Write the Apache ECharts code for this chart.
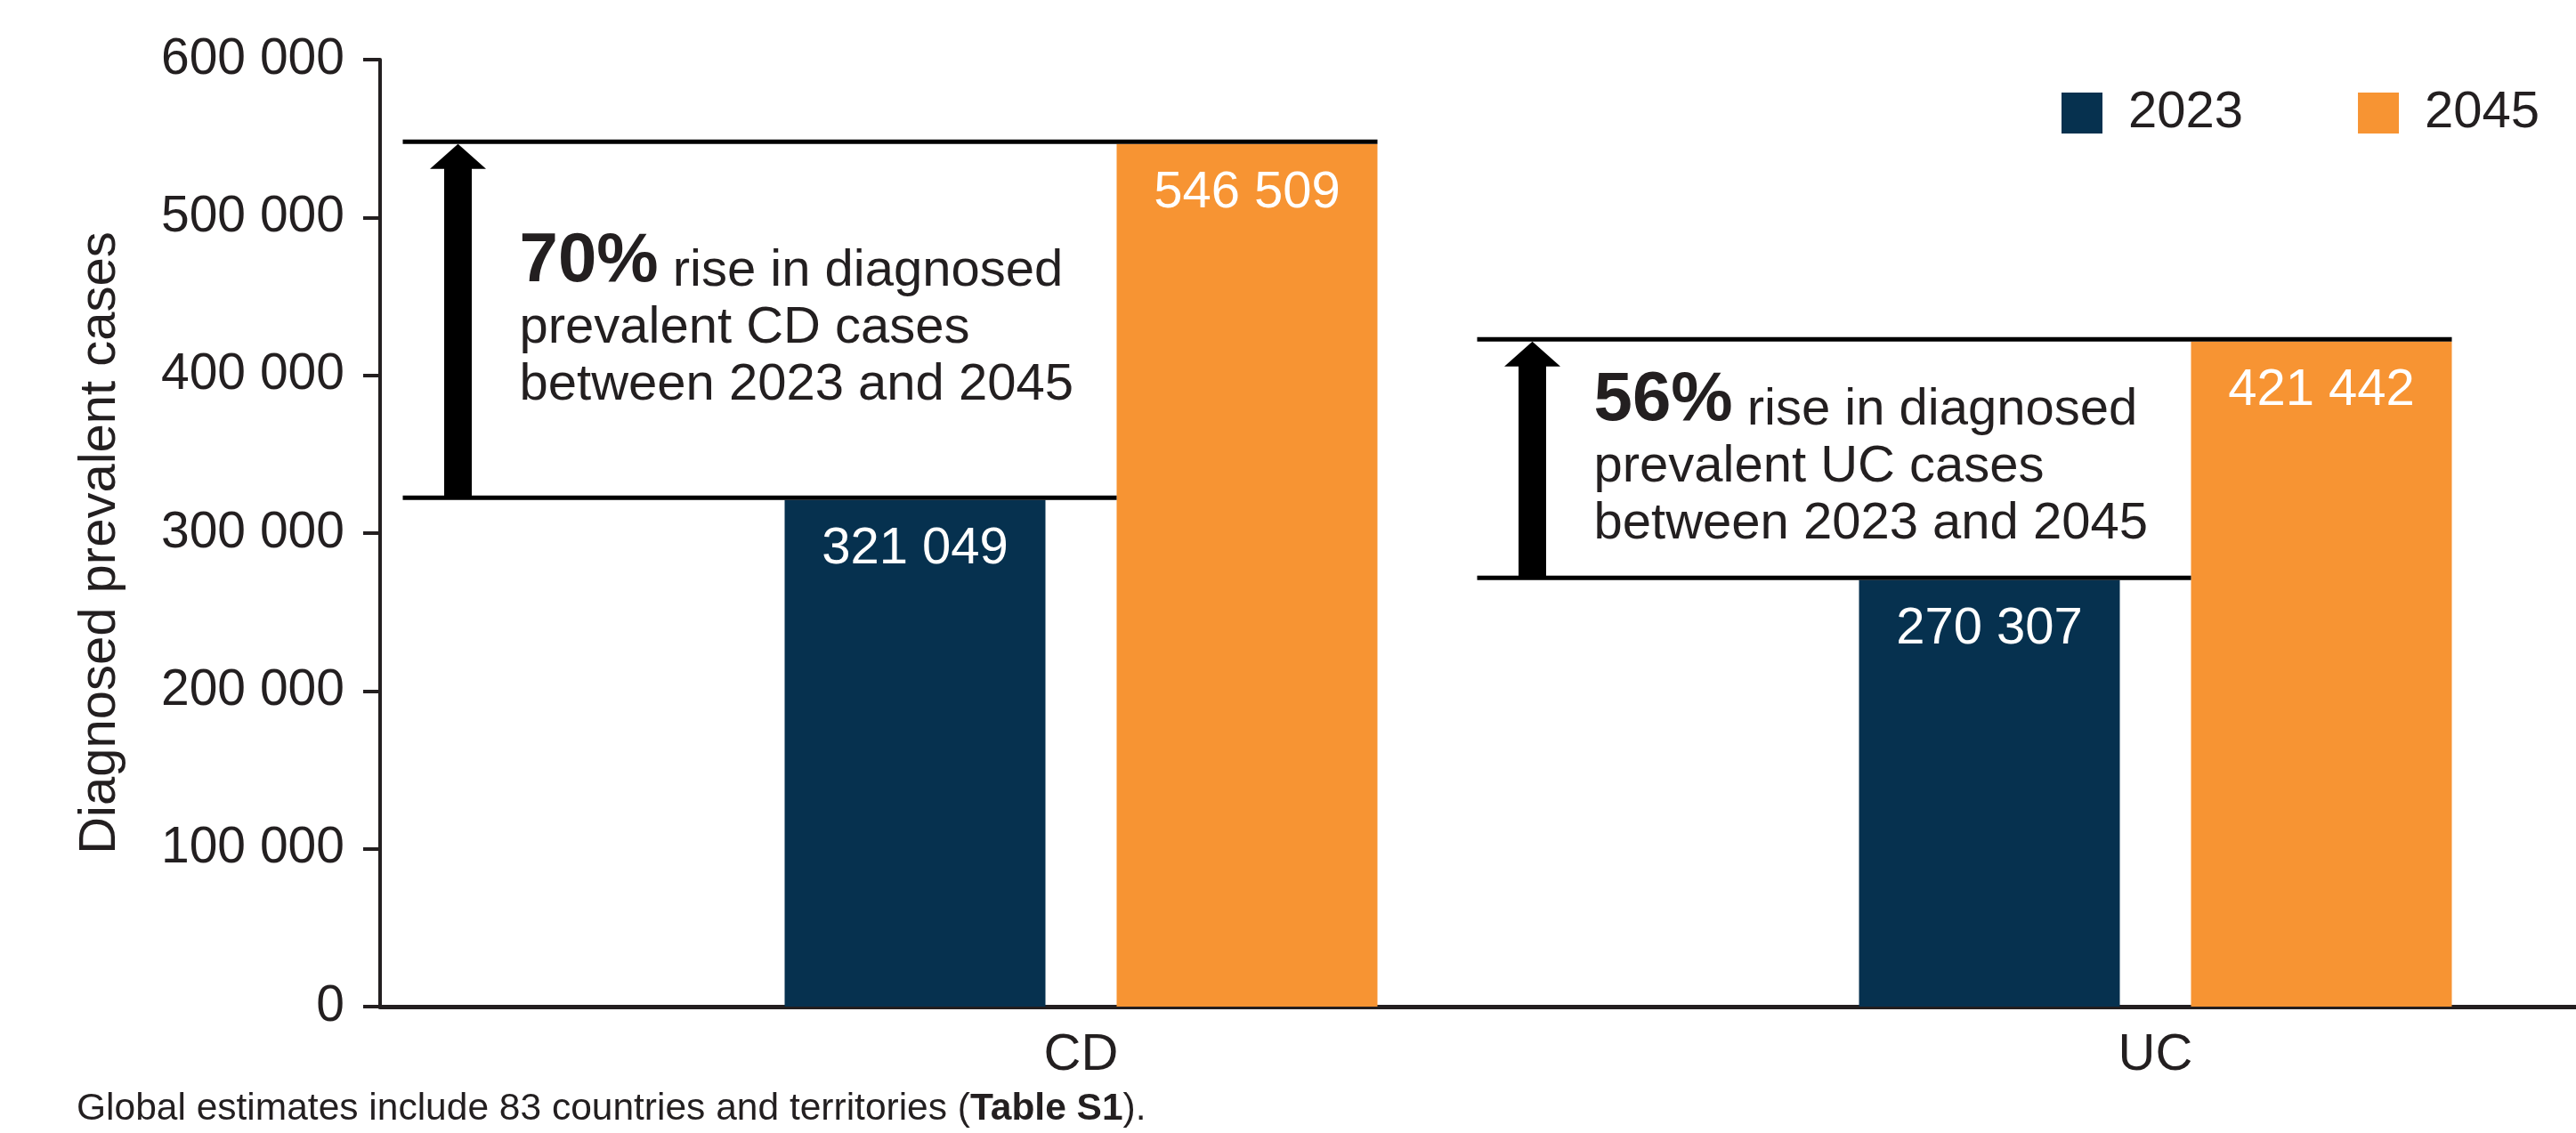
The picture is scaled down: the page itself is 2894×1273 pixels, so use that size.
<!DOCTYPE html>
<html>
<head>
<meta charset="utf-8">
<title>Diagnosed prevalent cases, 2023 vs 2045</title>
<script src="https://cdn.jsdelivr.net/npm/echarts@6/dist/echarts.min.js"></script>
<style>
  html, body { margin: 0; padding: 0; background: #ffffff; }
  #chart { width: 2894px; height: 1273px; }
</style>
</head>
<body>
<div id="chart"></div>
<script>
// ---- data ----
const categories = ['CD', 'UC'];
const yearNames = ['2023', '2045'];
const cases2023 = [321049, 270307];
const cases2045 = [546509, 421442];
const riseLabels = ['70%', '56%'];
const yAxisMax = 600000;
const yAxisStep = 100000;
const footnoteParts = ['Global estimates include 83 countries and territories (', 'Table S1', ').'];

// ---- style ----
const FONT = '"Liberation Sans", Arial, Helvetica, sans-serif';
const INK = '#231f20';
const NAVY = '#06314f';
const ORANGE = '#f79433';
const BAR_WIDTH = 293;
const BAR_GAP = 80;

const fmt = v => String(v).replace(/\B(?=(\d{3})+(?!\d))/g, ' ');

const chart = echarts.init(document.getElementById('chart'), null, { renderer: 'canvas' });

// category index 0 and 1 sit on a value axis so the group centres can be placed freely
const GRID_LEFT = 427;
const GRID_RIGHT_EDGE = 2894;
const UNIT_PX = 1207;
const FIRST_CENTER = 1214.5;
const xMin = (GRID_LEFT - FIRST_CENTER) / UNIT_PX;
const xMax = (GRID_RIGHT_EDGE - FIRST_CENTER) / UNIT_PX;

const barLabel = {
  show: true,
  position: 'insideTop',
  distance: 26,
  color: '#ffffff',
  fontFamily: FONT,
  fontSize: 58,
  lineHeight: 58,
  formatter: p => fmt(p.value[1])
};

function renderRise(params, api) {
  const idx = api.value(0);
  const low = api.coord([idx, api.value(1)]);
  const high = api.coord([idx, api.value(2)]);
  const cx = low[0];
  const arrowX = cx - 700;
  const lineStart = arrowX - 62;
  const headH = 28, headHalf = 31.5, shaftHalf = 15.5;
  const topY = high[1] - 2.5;
  const botY = low[1] - 2.5;
  const cat = categories[idx];
  const pct = riseLabels[idx];
  return {
    type: 'group',
    children: [
      { type: 'line', shape: { x1: lineStart, y1: topY, x2: cx + BAR_GAP / 2 + BAR_WIDTH, y2: topY },
        style: { stroke: '#000', lineWidth: 5 } },
      { type: 'line', shape: { x1: lineStart, y1: botY, x2: cx + BAR_GAP / 2, y2: botY },
        style: { stroke: '#000', lineWidth: 5 } },
      { type: 'rect', shape: { x: arrowX - shaftHalf, y: high[1] + headH - 1, width: shaftHalf * 2, height: botY - (high[1] + headH - 1) },
        style: { fill: '#000' } },
      { type: 'polygon', shape: { points: [[arrowX, high[1]], [arrowX - headHalf, high[1] + headH], [arrowX + headHalf, high[1] + headH]] },
        style: { fill: '#000' } },
      { type: 'text',
        style: {
          x: arrowX + 69,
          y: (high[1] + low[1]) / 2 - 3,
          align: 'left',
          verticalAlign: 'middle',
          text: '{b|' + pct + '}{r| rise in diagnosed}\n{r|prevalent ' + cat + ' cases}\n{r|between ' + yearNames[0] + ' and ' + yearNames[1] + '}',
          fill: INK,
          rich: {
            b: { fontFamily: FONT, fontSize: 78, fontWeight: 'bold', lineHeight: 78, verticalAlign: 'bottom', fill: INK },
            r: { fontFamily: FONT, fontSize: 58, lineHeight: 64, verticalAlign: 'bottom', fill: INK }
          }
        } }
    ]
  };
}

const option = {
  animation: false,
  backgroundColor: '#ffffff',
  textStyle: { fontFamily: FONT, color: INK },
  grid: { left: GRID_LEFT, right: 0, top: 67, bottom: 142, containLabel: false },
  legend: {
    data: yearNames,
    left: 2316,
    top: 98,
    padding: 0,
    itemWidth: 46,
    itemHeight: 46,
    itemGap: 129,
    icon: 'rect',
    selectedMode: false,
    textStyle: { fontFamily: FONT, fontSize: 58, lineHeight: 58, color: INK, padding: [0, 0, 0, 24] }
  },
  xAxis: {
    type: 'value',
    min: xMin,
    max: xMax,
    splitLine: { show: false },
    axisTick: { show: false },
    axisLine: { show: true, onZero: false, lineStyle: { color: INK, width: 5 } },
    axisLabel: {
      customValues: categories.map((c, i) => i),
      formatter: v => categories[Math.round(v)] ?? '',
      margin: 26,
      fontFamily: FONT,
      fontSize: 58,
      lineHeight: 58,
      color: INK
    }
  },
  yAxis: {
    type: 'value',
    min: 0,
    max: yAxisMax,
    interval: yAxisStep,
    name: 'Diagnosed prevalent cases',
    nameLocation: 'middle',
    nameRotate: 90,
    nameGap: 285,
    nameTextStyle: { fontFamily: FONT, fontSize: 58, lineHeight: 58, color: INK, padding: [0, 22, 0, 0] },
    splitLine: { show: false },
    axisLine: { show: true, onZero: false, lineStyle: { color: INK, width: 4 } },
    axisTick: { show: true, length: 19, lineStyle: { color: INK, width: 4 } },
    axisLabel: { formatter: v => fmt(v), margin: 40, fontFamily: FONT, fontSize: 57, color: INK }
  },
  series: [
    {
      name: yearNames[0],
      type: 'bar',
      barWidth: BAR_WIDTH,
      barGap: (BAR_GAP / BAR_WIDTH * 100).toFixed(1) + '%',
      itemStyle: { color: NAVY },
      label: barLabel,
      data: categories.map((c, i) => [i, cases2023[i]])
    },
    {
      name: yearNames[1],
      type: 'bar',
      barWidth: BAR_WIDTH,
      itemStyle: { color: ORANGE },
      label: barLabel,
      data: categories.map((c, i) => [i, cases2045[i]])
    },
    {
      name: 'rise',
      type: 'custom',
      z: 5,
      renderItem: renderRise,
      encode: { x: 0, y: [1, 2] },
      data: categories.map((c, i) => [i, cases2023[i], cases2045[i]])
    }
  ],
  graphic: [
    {
      type: 'text',
      left: 86,
      top: 1225,
      style: {
        text: '{r|' + footnoteParts[0] + '}{b|' + footnoteParts[1] + '}{r|' + footnoteParts[2] + '}',
        rich: {
          r: { fontFamily: FONT, fontSize: 42.5, lineHeight: 43, fill: INK },
          b: { fontFamily: FONT, fontSize: 42.5, lineHeight: 43, fontWeight: 'bold', fill: INK }
        }
      }
    }
  ]
};

chart.setOption(option);
</script>
</body>
</html>
